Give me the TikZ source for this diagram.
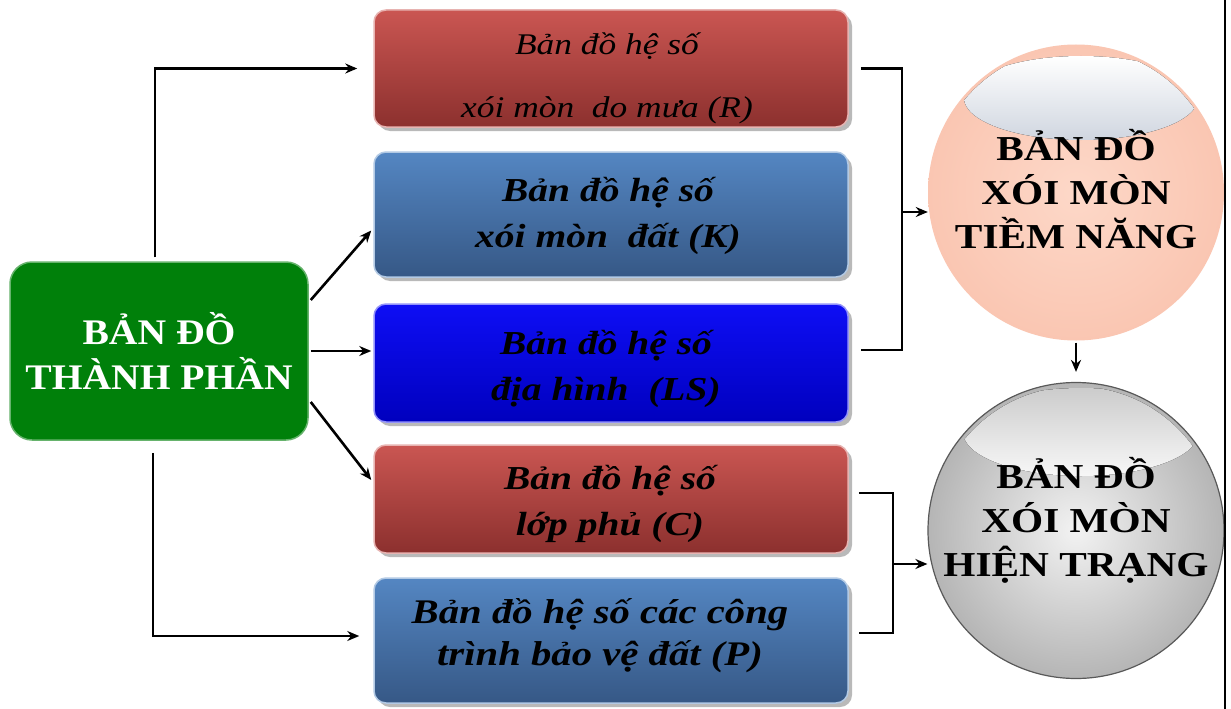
\documentclass[tikz,border=0pt]{standalone}
\usepackage{fontspec}
\setmainfont{Liberation Serif}
\newfontfamily\wserif[FakeStretch=1.18]{Liberation Serif}
\newfontfamily\gserif[FakeStretch=1.1]{Liberation Serif}
\usetikzlibrary{shadows,arrows.meta,calc}
\definecolor{redtop}{RGB}{202,86,82}
\definecolor{redbot}{RGB}{140,48,46}
\definecolor{bluetop}{RGB}{84,134,194}
\definecolor{bluebot}{RGB}{54,88,134}
\definecolor{vbluetop}{RGB}{14,14,245}
\definecolor{vbluebot}{RGB}{0,0,190}
\definecolor{gboxc}{RGB}{0,128,10}
\definecolor{peach}{RGB}{253,216,200}
\definecolor{peachedge}{RGB}{250,198,178}
\definecolor{hlgrey}{RGB}{208,214,224}
\begin{document}
\begin{tikzpicture}[x=1pt,y=-1pt,
  basebox/.style={rectangle, rounded corners=12pt, minimum width=474pt, inner sep=0pt, line width=1.5pt,
    drop shadow={shadow xshift=4pt, shadow yshift=-4pt, fill=gray!55, opacity=1}},
  redbox/.style={basebox, top color=redtop, bottom color=redbot, draw=redtop!45!white},
  bluebox/.style={basebox, top color=bluetop, bottom color=bluebot, draw=bluetop!45!white},
  vbluebox/.style={basebox, top color=vbluetop, bottom color=vbluebot, draw=vbluetop!45!white},
  greenbox/.style={rectangle, rounded corners=22pt, fill=gboxc, draw=gboxc!60!white, line width=1.5pt,
    minimum width=298pt, minimum height=178pt, align=center, text=white,
    font=\gserif\bfseries\fontsize{36}{45}\selectfont},
  boxtxt/.style={align=center, text=black, inner sep=0pt, font=\wserif\bfseries\itshape\fontsize{33.5}{46}\selectfont},
  rtxt/.style={align=center, text=black, inner sep=0pt, font=\wserif\itshape\fontsize{30}{63}\selectfont},
  circtxt/.style={align=center, text=black, inner sep=0pt, font=\wserif\bfseries\fontsize{35}{44}\selectfont},
  ball/.style={circle, minimum size=296pt, inner sep=0pt},
  conn/.style={line width=2.6pt, black},
  arr/.style={conn, -{Stealth[length=12pt,width=10pt]}}
]
\useasboundingbox (0,0) rectangle (1231,709);
\fill[white] (0,0) rectangle (1231,709);

% left node
\node[greenbox] (G) at (159,351) {BẢN ĐỒ\\THÀNH PHẦN};

% factor boxes
\node[redbox, minimum height=117pt] (R) at (611,68.5) {};
\node[rtxt] (Rt) at (607,78.5) {Bản đồ hệ số\\xói mòn\ \ do mưa (R)};
\node[bluebox, minimum height=125pt] (K) at (611,214.5) {};
\node[boxtxt] (Kt) at (608,215.5) {Bản đồ hệ số\\xói mòn\ \ đất (K)};
\node[vbluebox, minimum height=118pt] (LS) at (611,363) {};
\node[boxtxt] (LSt) at (606,368.5) {Bản đồ hệ số\\địa hình\ \ (LS)};
\node[redbox, minimum height=108pt] (C) at (611,499) {};
\node[boxtxt] (Ct) at (610,503.5) {Bản đồ hệ số\\lớp phủ (C)};
\node[bluebox, minimum height=125pt] (P) at (611,640.5) {};
\node[boxtxt, font=\wserif\bfseries\itshape\fontsize{34.5}{42}\selectfont] (Pt) at (600,636) {Bản đồ hệ số các công\\trình bảo vệ đất (P)};

% circles
\node[ball, shading=radial, inner color=peach, outer color=peachedge] (C1) at (1076,192.5) {};
\begin{scope}
  \clip (C1.center) circle [radius=145pt];
  \fill[top color=white, bottom color=hlgrey] (1081,98) ellipse [x radius=117pt, y radius=42pt];
\end{scope}
\node[circtxt] (C1t) at (1076,189) {BẢN ĐỒ\\XÓI MÒN\\TIỀM NĂNG};

\node[ball, shading=radial, inner color=gray!10, outer color=gray!58, draw=gray!70!black, line width=1.2pt] (C2) at (1076,530.5) {};
\begin{scope}
  \clip (C2.center) circle [radius=144pt];
  \fill[top color=gray!40, bottom color=gray!6] (1081,432) ellipse [x radius=118pt, y radius=44pt];
\end{scope}
\node[circtxt] (C2t) at (1076,520) {BẢN ĐỒ\\XÓI MÒN\\HIỆN TRẠNG};

% connectors from left node
\draw[arr] ([xshift=-4pt,yshift=4pt]G.north) |- ([xshift=-16pt]R.west);
\draw[arr] ([xshift=-6pt,yshift=-12pt]G.south) |- ([xshift=-14pt,yshift=4.5pt]P.west);
\draw[arr] ([xshift=2pt,yshift=51pt]G.east) -- ([xshift=-2pt,yshift=-16pt]K.west);
\draw[arr, shorten >=2pt] ([xshift=2pt]G.east) -- (LS.west |- G.east);
\draw[arr] ([xshift=2pt,yshift=-51pt]G.east) -- ([xshift=-2pt,yshift=19pt]C.west);

% brackets to circles
\coordinate (j1) at (902,212);
\draw[conn] ([xshift=12pt]R.east) -| (j1) |- ([xshift=12pt,yshift=13pt]LS.east);
\draw[arr] (j1) -- (j1 -| C1.west);
\coordinate (j2) at (893,564);
\draw[conn] ([xshift=10pt,yshift=6pt]C.east) -| (j2) |- ([xshift=10pt,yshift=7.5pt]P.east);
\draw[arr] (j2) -- (j2 -| C2.west);
\draw[arr, shorten <=2pt, shorten >=10pt] (C1.south) -- (C2.north);

% right frame edge
\draw[line width=2pt] (1225,0) -- (1225,709);
\end{tikzpicture}
\end{document}
